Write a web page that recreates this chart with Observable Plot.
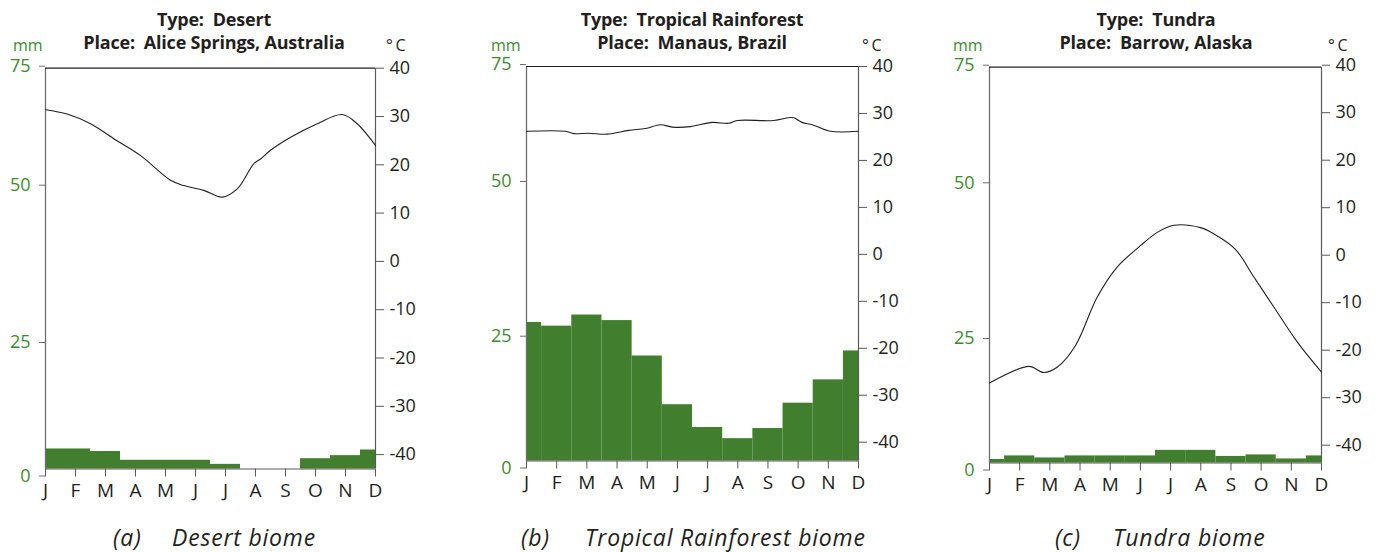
<!DOCTYPE html>
<html><head><meta charset="utf-8">
<script src="https://cdn.jsdelivr.net/npm/d3@7"></script>
<script src="https://cdn.jsdelivr.net/npm/@observablehq/plot@0.6"></script>
<style>
body{margin:0;background:#fff;}
#root{position:relative;width:1375px;height:552px;overflow:hidden;font-family:"Open Sans",sans-serif;color:#231f20;}
.abs{position:absolute;white-space:pre;line-height:1;}
.title{font-weight:700;font-size:18px;transform:translateX(-50%);letter-spacing:-0.2px;}
.cap{font-style:italic;font-size:23px;letter-spacing:0.8px;}
.mm{color:#3d8b2f;font-size:16px;line-height:0.9;}
.deg{font-size:16px;line-height:0.9;}
#root svg{position:absolute;top:0;overflow:visible;}
</style></head><body><div id="root"></div>
<script>
// ---------- data ----------
const months = ["J","F","M","A","M","J","J","A","S","O","N","D"];
const titles = [
  ["Type:  Desert", "Place:  Alice Springs, Australia"],
  ["Type:  Tropical Rainforest", "Place:  Manaus, Brazil"],
  ["Type:  Tundra", "Place:  Barrow, Alaska"]
];
const captionTags = ["(a)", "(b)", "(c)"];
const captionNames = ["Desert biome", "Tropical Rainforest biome", "Tundra biome"];
const mmTicks = [0, 25, 50, 75];
const tempTicks = [40, 30, 20, 10, 0, -10, -20, -30, -40];

// monthly precipitation (mm)
const desertPrecip     = [3.9, 3.9, 3.4, 1.7, 1.7, 1.7, 0.9, 0, 0, 2.0, 2.6, 3.7];
const rainforestPrecip = [26.9, 26.3, 28.1, 27.2, 20.7, 11.1, 6.6, 4.4, 6.4, 11.4, 16.0, 21.7];
const tundraPrecip     = [0.7, 1.4, 1.0, 1.4, 1.4, 1.4, 2.5, 2.5, 1.3, 1.6, 0.8, 1.4];

// temperature curves (°C) read along the year (month index 0 = Jan … 11 = Dec)
const desertTempMonth = [0, 0.72, 1.5, 2.33, 3.17, 4.17, 4.61, 5.28, 5.89, 6.39, 6.94, 7.17, 7.5, 8.17, 9.06, 9.89, 10.39, 11];
const desertTemp      = [31.4, 30.5, 28.5, 25.2, 21.9, 16.8, 15.7, 14.7, 13.3, 15.0, 20.2, 21.2, 23.0, 25.7, 28.5, 30.4, 28.5, 24.0];
const rainforestTempMonth = [0, 1.29, 1.57, 2.06, 2.67, 3.39, 3.94, 4.44, 4.83, 5.43, 6.15, 6.70, 6.98, 8.19, 8.69, 8.86, 9.13, 9.47, 10.07, 11];
const rainforestTemp      = [26.2, 26.2, 25.7, 25.8, 25.6, 26.4, 26.8, 27.6, 27.1, 27.2, 28.1, 27.9, 28.5, 28.5, 29.1, 29.1, 28.1, 27.6, 26.2, 26.2];
const tundraTempMonth = [0, 1.30, 1.80, 2.24, 2.85, 3.57, 4.23, 5.00, 5.56, 6.11, 6.99, 7.43, 8.14, 8.76, 9.42, 10.20, 11];
const tundraTemp      = [-26.9, -23.4, -24.7, -23.6, -19.0, -8.8, -2.5, 2.0, 4.8, 6.3, 5.8, 4.5, 1.3, -4.6, -10.9, -18.3, -24.6];

const precipSeries = [desertPrecip, rainforestPrecip, tundraPrecip];
const tempMonthSeries = [desertTempMonth, rainforestTempMonth, tundraTempMonth];
const tempSeries = [desertTemp, rainforestTemp, tundraTemp];

// ---------- layout ----------
const layout = [
  {xL:45,  xR:375,  yT:67.7, y50:182.7, y25:340,   yB:468.5, t40:67.7, tm40:454.1, titleX:214,  capTag:113,  capName:172,  mmX:13,   degX:386},
  {xL:526, xR:858,  yT:66,   y50:179,   y25:333.7, yB:460.5, t40:66,   tm40:441.7, titleX:692,  capTag:521,  capName:585,  mmX:491,  degX:862},
  {xL:989, xR:1321, yT:66.7, y50:180.3, y25:336,   yB:462.5, t40:64.7, tm40:444.7, titleX:1156, capTag:1055, capName:1113, mmX:953,  degX:1328}
];
const H = 515, M = 45;
const green = "#417f2e", labelGreen = "#3d8b2f", ink = "#231f20";
const root = document.getElementById("root");

function addDiv(cls, text, left, top) {
  const d = document.createElement("div");
  d.className = "abs " + cls;
  d.textContent = text;
  d.style.left = left + "px";
  d.style.top = top + "px";
  root.appendChild(d);
}

layout.forEach((L, p) => {
  const len = L.xR - L.xL;
  const W = len + 2 * M;
  const common = {
    width: W, height: H,
    marginLeft: M, marginRight: M, marginTop: L.yT, marginBottom: H - L.yB,
    style: {fontFamily: '"Open Sans", sans-serif', background: "transparent", overflow: "visible"},
  };
  const xScale = {type: "linear", domain: [0, 11], range: [M, M + len], axis: null};
  const bars = precipSeries[p].map((v, i) => ({x1: Math.max(0, i - 0.5), x2: Math.min(11, i + 0.5), v}));
  const mmOffsets = {0: 7, 25: 2, 50: 2, 75: -2};

  const precipPlot = Plot.plot({
    ...common,
    x: xScale,
    y: {type: "linear", domain: mmTicks, range: [L.yB, L.y25, L.y50, L.yT], axis: null},
    marks: [
      Plot.rectY(bars, {x1: "x1", x2: "x2", y1: 0, y2: "v", fill: green}),
      Plot.ruleX([0], {stroke: "#6d6e71", strokeWidth: 1.3}),
      Plot.ruleX([11], {stroke: "#58595b", strokeWidth: 1.2}),
      Plot.ruleY([75], {stroke: ink, strokeWidth: 1.2}),
      Plot.ruleY([0], {stroke: "#58595b", strokeWidth: 1.2}),
      ...mmTicks.map(t => Plot.axisY([t], {anchor: "left", label: null, tickSize: 6, tickPadding: 9, stroke: "#6d6e71",
        fill: labelGreen, fontSize: 18, dy: mmOffsets[t], tickFormat: d => String(d)})),
      Plot.axisX(d3.range(12), {anchor: "bottom", label: null, tickSize: 8, tickPadding: 6, stroke: "#58595b",
        fill: ink, fontSize: 19, tickFormat: i => months[i]})
    ]
  });
  precipPlot.style.left = (L.xL - M) + "px";
  root.appendChild(precipPlot);

  const tm = tempMonthSeries[p];
  const tempPlot = Plot.plot({
    ...common,
    x: xScale,
    y: {type: "linear", domain: [-40, 40], range: [L.tm40, L.t40], axis: null},
    marks: [
      Plot.line(tempSeries[p], {x: (d, i) => tm[i], y: d => d, curve: "catmull-rom", stroke: ink, strokeWidth: 1.1}),
      Plot.axisY(tempTicks, {anchor: "right", label: null, tickSize: 8, tickPadding: 6, stroke: "#58595b",
        fill: ink, fontSize: 18, tickFormat: d => String(d)})
    ]
  });
  tempPlot.style.left = (L.xL - M) + "px";
  root.appendChild(tempPlot);

  addDiv("title", titles[p][0], L.titleX, 26 - 0.888 * 18);
  addDiv("title", titles[p][1], L.titleX, 49.3 - 0.888 * 18);
  addDiv("cap", captionTags[p], L.capTag, 546 - 0.888 * 23);
  addDiv("cap", captionNames[p], L.capName, 546 - 0.888 * 23);
  addDiv("mm", "mm", L.mmX, 51.5 - 0.838 * 16);
  addDiv("deg", "°\u2009C", L.degX, 51.5 - 0.838 * 16);
});
</script>
</body></html>
